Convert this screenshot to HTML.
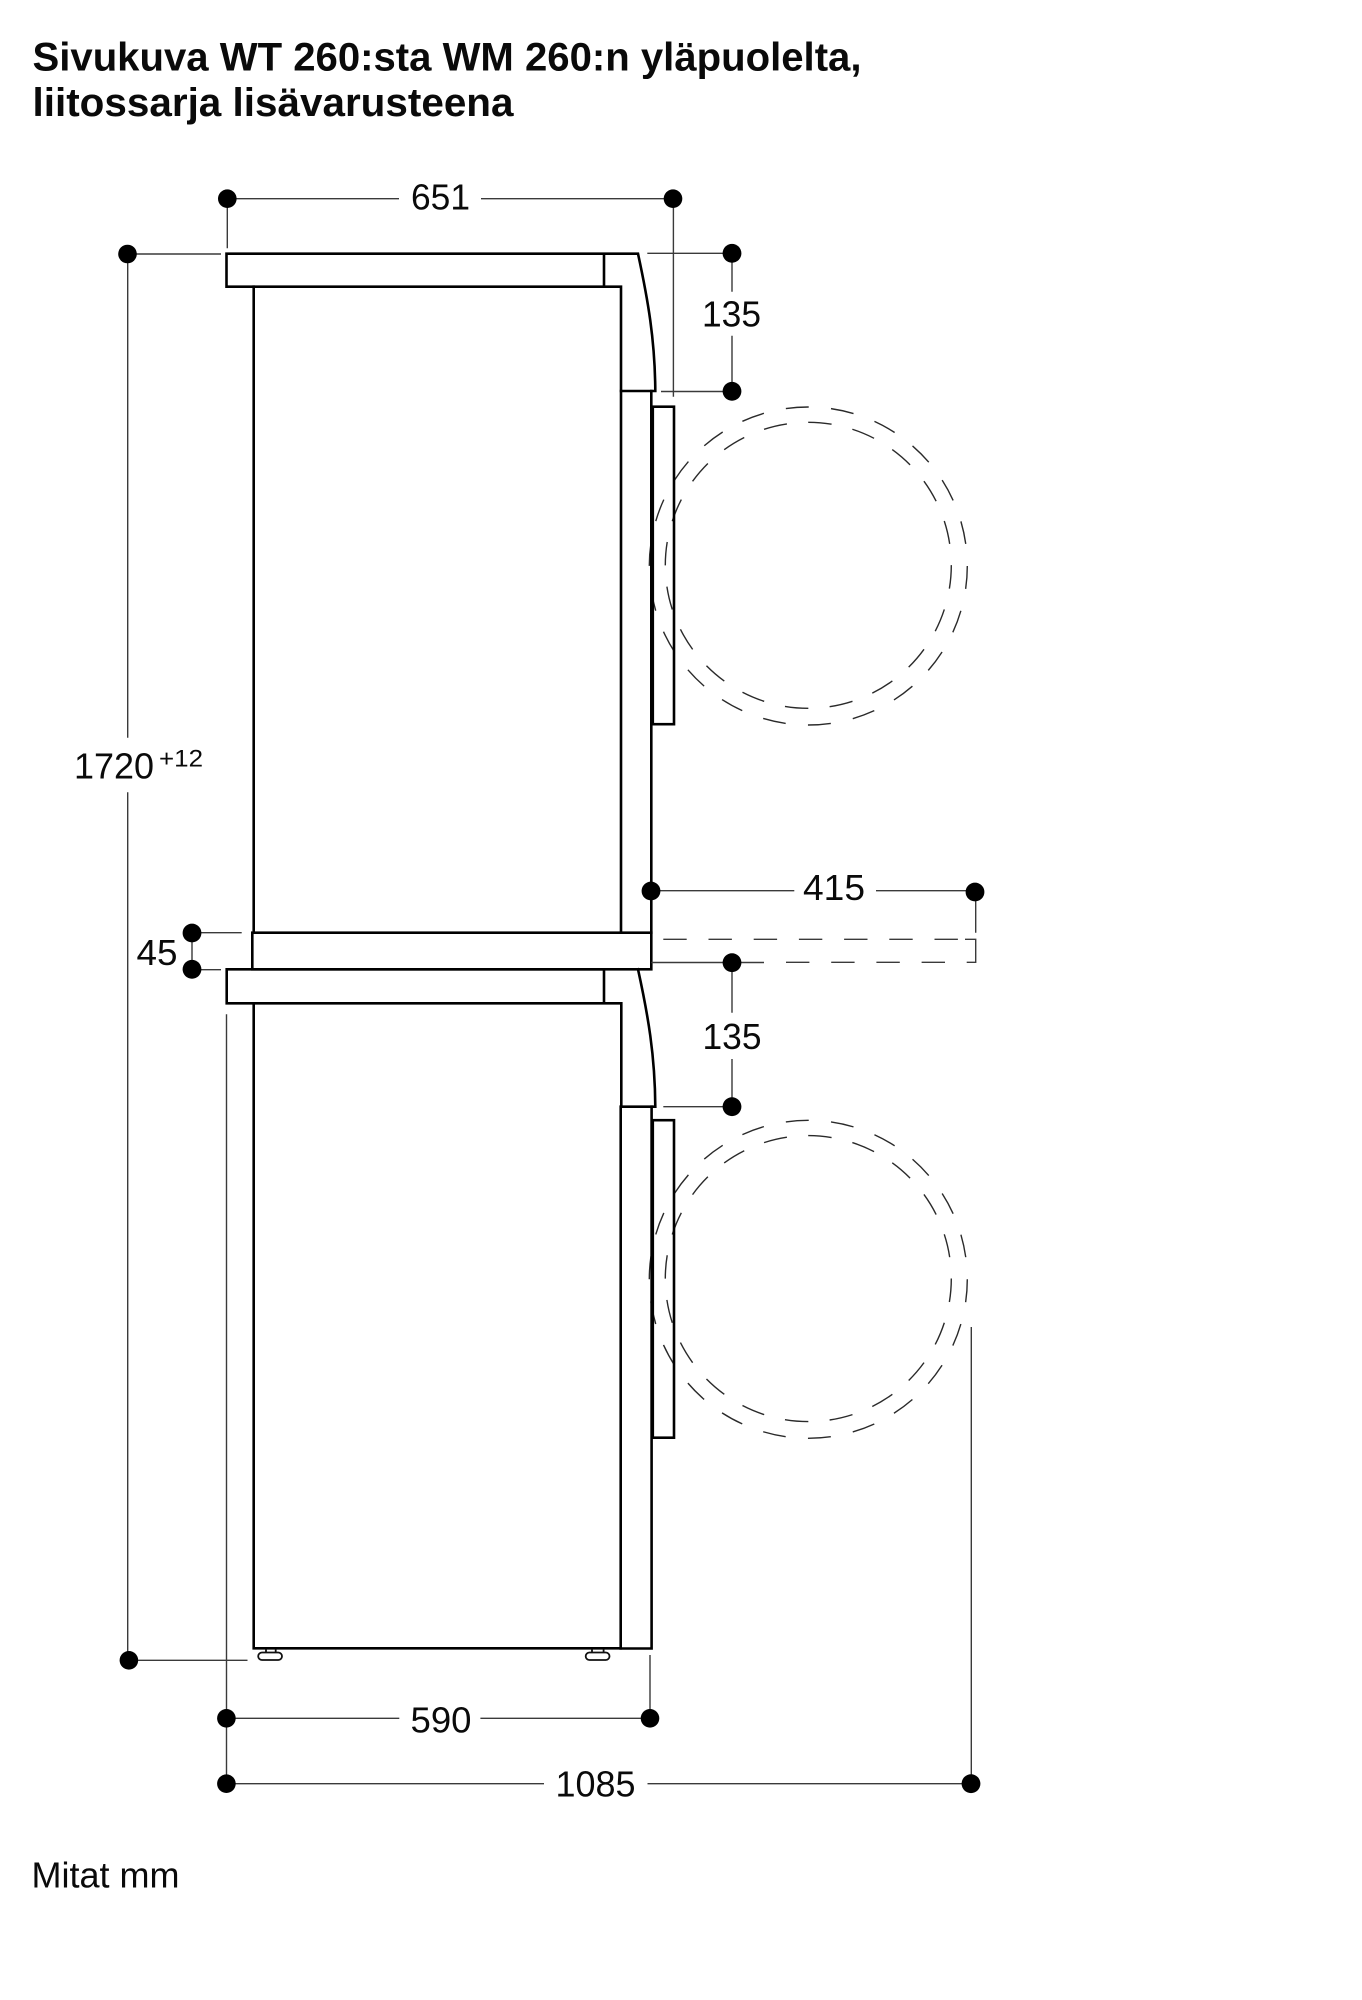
<!DOCTYPE html>
<html lang="fi">
<head>
<meta charset="utf-8">
<title>Sivukuva WT 260:sta WM 260:n yläpuolelta</title>
<style>
html,body{margin:0;padding:0;background:#fff;width:1362px;height:2000px;overflow:hidden}
svg{display:block}
text{font-family:"Liberation Sans",sans-serif;fill:#0a0a0a}
.m{fill:none;stroke:#000;stroke-width:2.6;stroke-linecap:square;stroke-linejoin:miter}
.t{fill:none;stroke:#3a3a3a;stroke-width:1.4}
.d{fill:none;stroke:#2a2a2a;stroke-width:1.4}
.n{font-size:36px}
.h{font-size:40px;font-weight:bold}
circle.dot{fill:#000;stroke:none}
</style>
</head>
<body>
<svg width="1362" height="2000" viewBox="0 0 1362 2000" xmlns="http://www.w3.org/2000/svg">
<!-- Title -->
<text class="h" x="32.5" y="70.7" textLength="829" lengthAdjust="spacingAndGlyphs">Sivukuva WT 260:sta WM 260:n yläpuolelta,</text>
<text class="h" x="32.5" y="116" textLength="481" lengthAdjust="spacingAndGlyphs">liitossarja lisävarusteena</text>
<text class="n" x="31.5" y="1887.3" textLength="148" lengthAdjust="spacingAndGlyphs">Mitat mm</text>

<!-- Dashed circles top -->
<circle class="d" cx="808.3" cy="566" r="159" stroke-dasharray="23 22.4"/>
<circle class="d" cx="808.3" cy="565.3" r="143" stroke-dasharray="23.5 21.4"/>
<!-- Dashed circles bottom -->
<circle class="d" cx="808.3" cy="1279.3" r="159" stroke-dasharray="23 22.4"/>
<circle class="d" cx="808.3" cy="1278.6" r="143" stroke-dasharray="23.5 21.4"/>

<!-- Upper appliance -->
<path class="m" d="M604 253.7H226.5V286.7H604M604 253.7V286.7H621V391M604 253.7H638C648 300 655 340 655.3 391H621"/>
<path class="m" d="M253.7 286.7V932.7"/>
<path class="m" d="M621 391V932.7M651.3 391V932.7"/>
<rect class="m" x="652.8" y="406.7" width="21.2" height="317.5" stroke-width="2.2"/>

<!-- Middle kit -->
<rect class="m" x="252.3" y="932.7" width="399" height="36.6"/>

<!-- Lower appliance -->
<path class="m" d="M604 969.3H226.7V1003.3H604M604 969.3V1003.3H621.3V1106.7M638 969.3C648 1015 655 1055 655.3 1106.7H621.3"/>
<path class="m" d="M253.7 1003.3V1648.3H620.7"/>
<path class="m" d="M620.7 1106.7V1648.5H651.6V1106.7"/>
<rect class="m" x="652.8" y="1120.2" width="21.2" height="317.5" stroke-width="2.2"/>

<!-- Feet -->
<g fill="none" stroke="#111" stroke-width="1.8">
<rect x="258.2" y="1652.5" width="23.8" height="7.5" rx="3.7"/>
<path d="M266 1649V1652.5M275.7 1649V1652.5"/>
<rect x="585.7" y="1652.5" width="23.8" height="7.5" rx="3.7"/>
<path d="M592 1649V1652.5M603.6 1649V1652.5"/>
</g>

<!-- Thin dimension lines -->
<g class="t">
<path d="M227.3 198.7H399M481 198.7H673"/>
<path d="M227.3 198.7V248.3M673.4 198.7V396.7"/>
<path d="M127.5 254H221M127.7 254V737.7M127.7 792.3V1660.3M128.9 1660.3H247.5"/>
<path d="M647.3 253.3H732M661 391.5H732M732 253.3V291.7M732 335.7V391.5"/>
<path d="M192 932.7H241.7M192 969.7H221M192 932.7V969.7"/>
<path d="M651 890.7H794.3M876 890.7H975.7M975.7 890.7V932.7"/>
<path d="M651.3 962.5H764M732 962.5V1012.7M732 1059V1106.7M663.3 1106.7H732"/>
<path d="M226.5 1014.3V1783.7M650 1655V1718.3"/>
<path d="M226.5 1718.3H399.3M480.4 1718.3H650"/>
<path d="M226.5 1783.7H544M647.5 1783.7H971.3M971.3 1327V1783.7"/>
<!-- dashed ghost -->
<path d="M663.3 939.3H958" stroke-dasharray="23.4 21.8"/>
<path d="M965 939.3H975.7V962.3H966.7"/>
<path d="M786 962.3H960" stroke-dasharray="23.4 21.8"/>
</g>

<!-- Dots -->
<g>
<circle class="dot" cx="227.3" cy="198.7" r="9.3"/>
<circle class="dot" cx="673" cy="198.7" r="9.3"/>
<circle class="dot" cx="127.5" cy="254" r="9.3"/>
<circle class="dot" cx="732" cy="253.3" r="9.4"/>
<circle class="dot" cx="732" cy="391.3" r="9.4"/>
<circle class="dot" cx="651" cy="891" r="9.4"/>
<circle class="dot" cx="975" cy="892" r="9.4"/>
<circle class="dot" cx="192" cy="933" r="9.4"/>
<circle class="dot" cx="192" cy="969.3" r="9.4"/>
<circle class="dot" cx="732" cy="962.7" r="9.4"/>
<circle class="dot" cx="732" cy="1106.7" r="9.4"/>
<circle class="dot" cx="128.9" cy="1660.3" r="9.3"/>
<circle class="dot" cx="226.4" cy="1718.3" r="9.3"/>
<circle class="dot" cx="650" cy="1718.3" r="9.3"/>
<circle class="dot" cx="226.4" cy="1783.7" r="9.3"/>
<circle class="dot" cx="971" cy="1783.7" r="9.4"/>
</g>

<!-- Labels -->
<text class="n" x="411" y="209.3" textLength="59" lengthAdjust="spacingAndGlyphs">651</text>
<text class="n" x="702" y="326.7" textLength="59" lengthAdjust="spacingAndGlyphs">135</text>
<text class="n" x="74" y="778.3" textLength="80" lengthAdjust="spacingAndGlyphs">1720</text>
<text x="159" y="766.7" font-size="24" textLength="44" lengthAdjust="spacingAndGlyphs">+12</text>
<text class="n" x="136.5" y="965" textLength="41" lengthAdjust="spacingAndGlyphs">45</text>
<text class="n" x="803" y="900" textLength="62" lengthAdjust="spacingAndGlyphs">415</text>
<text class="n" x="702.5" y="1049" textLength="59" lengthAdjust="spacingAndGlyphs">135</text>
<text class="n" x="410.5" y="1732.7" textLength="61" lengthAdjust="spacingAndGlyphs">590</text>
<text class="n" x="555.5" y="1796.7" textLength="80" lengthAdjust="spacingAndGlyphs">1085</text>
</svg>
</body>
</html>
